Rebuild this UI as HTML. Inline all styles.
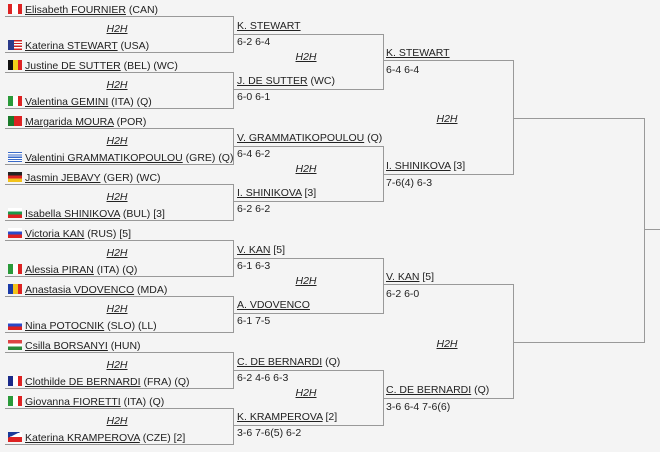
<!DOCTYPE html>
<html><head><meta charset="utf-8"><style>
html,body{margin:0;padding:0;background:#f4f4f4;width:660px;height:452px;overflow:hidden;position:relative}
.t{position:absolute;font-family:"Liberation Sans",sans-serif;font-size:10.5px;line-height:13px;white-space:nowrap;color:#222;margin-top:1px}
.t u{text-decoration:underline}
.h{font-style:italic;text-decoration:underline;transform:translateX(-50%)}
.f{position:absolute;left:8px;width:14px;height:10px}
svg{position:absolute;left:0;top:0}
</style></head><body>
<svg width="660" height="452"><g fill="none" stroke="#999" stroke-width="1">
<path d="M5 16.5H233.5V52.5H5M5 72.5H233.5V108.5H5M5 128.5H233.5V164.5H5M5 184.5H233.5V220.5H5M5 240.5H233.5V276.5H5M5 296.5H233.5V332.5H5M5 352.5H233.5V388.5H5M5 408.5H233.5V444.5H5"/>
<path d="M233.5 34.5H383.5V89.5H233.5M233.5 146.5H383.5V201.5H233.5M233.5 258.5H383.5V313.5H233.5M233.5 370.5H383.5V425.5H233.5"/>
<path d="M383.5 60.5H513.5V174.5H383.5M383.5 284.5H513.5V398.5H383.5"/>
<path d="M513.5 118.5H644.5V342.5H513.5M644.5 229.5H660"/>
</g></svg>

<div class="f" style="top:4px;background:linear-gradient(90deg,#d22 0 4px,#fff 4px 10px,#d22 10px)"></div>
<div class="f" style="top:40px;background:linear-gradient(90deg,#2a3a8a 0 6px,transparent 6px),repeating-linear-gradient(#c22 0 1.4px,#fff 1.4px 2.8px)"></div>
<div class="f" style="top:60px;background:linear-gradient(90deg,#111 0 5px,#f2d21a 5px 10px,#d22 10px)"></div>
<div class="f" style="top:96px;background:linear-gradient(90deg,#2a9a3a 0 5px,#fff 5px 10px,#d22 10px)"></div>
<div class="f" style="top:116px;background:linear-gradient(90deg,#1a7a2a 0 6px,#d22 6px)"></div>
<div class="f" style="top:152px;background:repeating-linear-gradient(#3a6ac8 0 1.2px,#fff 1.2px 2.3px)"></div>
<div class="f" style="top:172px;background:linear-gradient(#222 0 3.3px,#d22 3.3px 6.6px,#f2c21a 6.6px)"></div>
<div class="f" style="top:208px;background:linear-gradient(#fff 0 3.3px,#1a9a4a 3.3px 6.6px,#d22 6.6px)"></div>
<div class="f" style="top:228px;background:linear-gradient(#fff 0 3.3px,#2a4ac8 3.3px 6.6px,#d22 6.6px)"></div>
<div class="f" style="top:264px;background:linear-gradient(90deg,#2a9a3a 0 5px,#fff 5px 10px,#d22 10px)"></div>
<div class="f" style="top:284px;background:linear-gradient(90deg,#1a3aa8 0 5px,#f2c21a 5px 10px,#d22 10px)"></div>
<div class="f" style="top:320px;background:linear-gradient(#fff 0 3.3px,#2a4ac8 3.3px 6.6px,#d22 6.6px)"></div>
<div class="f" style="top:340px;background:linear-gradient(#d44 0 3.3px,#fff 3.3px 6.6px,#2a8a3a 6.6px)"></div>
<div class="f" style="top:376px;background:linear-gradient(90deg,#1a2a8a 0 5px,#fff 5px 10px,#d22 10px)"></div>
<div class="f" style="top:396px;background:linear-gradient(90deg,#2a9a3a 0 5px,#fff 5px 10px,#d22 10px)"></div>
<div class="f" style="top:432px;background:linear-gradient(155deg,#1a3a9a 0 35%,transparent 35%),linear-gradient(#fff 0 5px,#d22 5px)"></div>

<div class="t" style="left:25px;top:3px"><u>Elisabeth FOURNIER</u> (CAN)</div>
<div class="t" style="left:25px;top:39px"><u>Katerina STEWART</u> (USA)</div>
<div class="t" style="left:25px;top:59px"><u>Justine DE SUTTER</u> (BEL) (WC)</div>
<div class="t" style="left:25px;top:95px"><u>Valentina GEMINI</u> (ITA) (Q)</div>
<div class="t" style="left:25px;top:115px"><u>Margarida MOURA</u> (POR)</div>
<div class="t" style="left:25px;top:151px"><u>Valentini GRAMMATIKOPOULOU</u> (GRE) (Q)</div>
<div class="t" style="left:25px;top:171px"><u>Jasmin JEBAVY</u> (GER) (WC)</div>
<div class="t" style="left:25px;top:207px"><u>Isabella SHINIKOVA</u> (BUL) [3]</div>
<div class="t" style="left:25px;top:227px"><u>Victoria KAN</u> (RUS) [5]</div>
<div class="t" style="left:25px;top:263px"><u>Alessia PIRAN</u> (ITA) (Q)</div>
<div class="t" style="left:25px;top:283px"><u>Anastasia VDOVENCO</u> (MDA)</div>
<div class="t" style="left:25px;top:319px"><u>Nina POTOCNIK</u> (SLO) (LL)</div>
<div class="t" style="left:25px;top:339px"><u>Csilla BORSANYI</u> (HUN)</div>
<div class="t" style="left:25px;top:375px"><u>Clothilde DE BERNARDI</u> (FRA) (Q)</div>
<div class="t" style="left:25px;top:395px"><u>Giovanna FIORETTI</u> (ITA) (Q)</div>
<div class="t" style="left:25px;top:431px"><u>Katerina KRAMPEROVA</u> (CZE) [2]</div>

<div class="t h" style="left:117px;top:22px">H2H</div>
<div class="t h" style="left:117px;top:78px">H2H</div>
<div class="t h" style="left:117px;top:134px">H2H</div>
<div class="t h" style="left:117px;top:190px">H2H</div>
<div class="t h" style="left:117px;top:246px">H2H</div>
<div class="t h" style="left:117px;top:302px">H2H</div>
<div class="t h" style="left:117px;top:358px">H2H</div>
<div class="t h" style="left:117px;top:414px">H2H</div>

<div class="t" style="left:237px;top:19px"><u>K. STEWART</u></div>
<div class="t" style="left:237px;top:35px">6-2 6-4</div>
<div class="t" style="left:237px;top:74px"><u>J. DE SUTTER</u> (WC)</div>
<div class="t" style="left:237px;top:90px">6-0 6-1</div>
<div class="t" style="left:237px;top:131px"><u>V. GRAMMATIKOPOULOU</u> (Q)</div>
<div class="t" style="left:237px;top:147px">6-4 6-2</div>
<div class="t" style="left:237px;top:186px"><u>I. SHINIKOVA</u> [3]</div>
<div class="t" style="left:237px;top:202px">6-2 6-2</div>
<div class="t" style="left:237px;top:243px"><u>V. KAN</u> [5]</div>
<div class="t" style="left:237px;top:259px">6-1 6-3</div>
<div class="t" style="left:237px;top:298px"><u>A. VDOVENCO</u></div>
<div class="t" style="left:237px;top:314px">6-1 7-5</div>
<div class="t" style="left:237px;top:355px"><u>C. DE BERNARDI</u> (Q)</div>
<div class="t" style="left:237px;top:371px">6-2 4-6 6-3</div>
<div class="t" style="left:237px;top:410px"><u>K. KRAMPEROVA</u> [2]</div>
<div class="t" style="left:237px;top:426px">3-6 7-6(5) 6-2</div>

<div class="t h" style="left:306px;top:50px">H2H</div>
<div class="t h" style="left:306px;top:162px">H2H</div>
<div class="t h" style="left:306px;top:274px">H2H</div>
<div class="t h" style="left:306px;top:386px">H2H</div>

<div class="t" style="left:386px;top:46px"><u>K. STEWART</u></div>
<div class="t" style="left:386px;top:63px">6-4 6-4</div>
<div class="t" style="left:386px;top:159px"><u>I. SHINIKOVA</u> [3]</div>
<div class="t" style="left:386px;top:176px">7-6(4) 6-3</div>
<div class="t" style="left:386px;top:270px"><u>V. KAN</u> [5]</div>
<div class="t" style="left:386px;top:287px">6-2 6-0</div>
<div class="t" style="left:386px;top:383px"><u>C. DE BERNARDI</u> (Q)</div>
<div class="t" style="left:386px;top:400px">3-6 6-4 7-6(6)</div>

<div class="t h" style="left:447px;top:112px">H2H</div>
<div class="t h" style="left:447px;top:337px">H2H</div>
</body></html>
